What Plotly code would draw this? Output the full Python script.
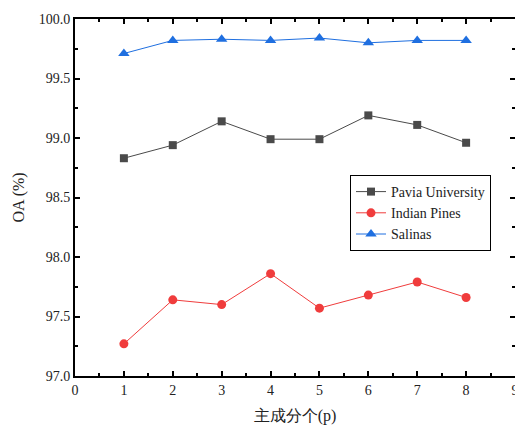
import plotly.graph_objects as go

p_values = [1, 2, 3, 4, 5, 6, 7, 8]
pavia = [98.83, 98.94, 99.14, 98.99, 98.99, 99.19, 99.11, 98.96]
indian = [97.27, 97.64, 97.60, 97.86, 97.57, 97.68, 97.79, 97.66]
salinas = [99.71, 99.82, 99.83, 99.82, 99.84, 99.80, 99.82, 99.82]
series_names = ["Pavia University", "Indian Pines", "Salinas"]

FONT = "Times New Roman, Liberation Serif, serif"

fig = go.Figure()
fig.add_trace(go.Scatter(x=p_values, y=pavia, name=series_names[0], mode="lines+markers",
                         line=dict(color="#4a4a4a", width=1),
                         marker=dict(symbol="square", size=8, color="#4a4a4a")))
fig.add_trace(go.Scatter(x=p_values, y=indian, name=series_names[1], mode="lines+markers",
                         line=dict(color="#f03c3c", width=1),
                         marker=dict(symbol="circle", size=9, color="#f03c3c")))
fig.add_trace(go.Scatter(x=p_values, y=salinas, name=series_names[2], mode="lines+markers",
                         line=dict(color="#1f6fe0", width=1),
                         marker=dict(symbol="triangle-up", size=10, color="#1f6fe0")))

axis_common = dict(showline=True, linecolor="black", linewidth=2, mirror="ticks",
                   ticks="inside", ticklen=5, tickwidth=2, tickcolor="black",
                   showgrid=False, zeroline=False,
                   tickfont=dict(family=FONT, size=14, color="#222"),
                   minor=dict(ticks="inside", ticklen=3, tickwidth=2, tickcolor="black", showgrid=False))

fig.update_xaxes(range=[0, 9], dtick=1, tick0=0,
                 title=dict(text="主成分个(p)", font=dict(family=FONT, size=16, color="#222"), standoff=13),
                 **axis_common)
fig.update_xaxes(minor_dtick=0.5)
fig.update_yaxes(range=[97.0, 100.0], dtick=0.5, tick0=97, tickformat=".1f",
                 title=dict(text="OA (%)", font=dict(family=FONT, size=16, color="#222"), standoff=10),
                 **axis_common)
fig.update_yaxes(minor_dtick=0.25)

fig.update_layout(
    width=515, height=420,
    margin=dict(l=67, r=4, t=11, b=52),
    paper_bgcolor="white", plot_bgcolor="white",
    font=dict(family=FONT, size=14, color="#222"),
    legend=dict(x=0.625, y=0.563, xanchor="left", yanchor="top",
                bordercolor="black", borderwidth=1, bgcolor="white",
                font=dict(family=FONT, size=14, color="#222"),
                tracegroupgap=0, itemwidth=30),
)

fig.write_html("out.html")
